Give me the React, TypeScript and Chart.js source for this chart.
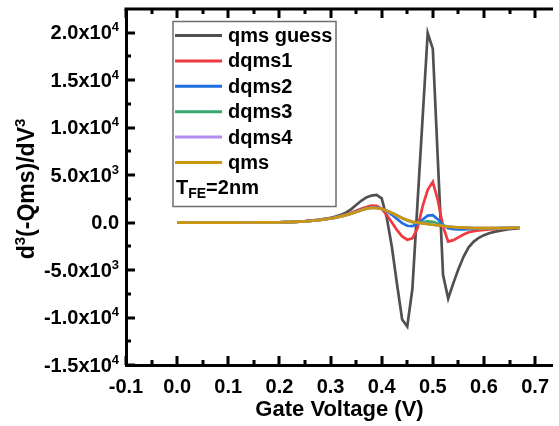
import React, { useEffect, useRef } from 'react';
import { Chart, registerables } from 'chart.js';

Chart.register(...registerables);

// Gate voltage (V)
const voltages = [
  0.00, 0.01, 0.02, 0.03, 0.04, 0.05, 0.06, 0.07, 0.08, 0.09,
  0.10, 0.11, 0.12, 0.13, 0.14, 0.15, 0.16, 0.17, 0.18, 0.19,
  0.20, 0.21, 0.22, 0.23, 0.24, 0.25, 0.26, 0.27, 0.28, 0.29,
  0.30, 0.31, 0.32, 0.33, 0.34, 0.35, 0.36, 0.37, 0.38, 0.39,
  0.40, 0.41, 0.42, 0.43, 0.44, 0.45, 0.46, 0.47, 0.48, 0.49,
  0.50, 0.51, 0.52, 0.53, 0.54, 0.55, 0.56, 0.57, 0.58, 0.59,
  0.60, 0.61, 0.62, 0.63, 0.64, 0.65, 0.66, 0.67,
];

const qmsGuess = [
  0, 0, 0, 0, 1, 1, 1, 2, 2, 3,
  4, 5, 6, 8, 10, 12, 15, 18, 22, 27,
  35, 45, 60, 82, 112, 150, 200, 260, 330, 410,
  510, 640, 810, 1050, 1400, 1850, 2300, 2650, 2850, 2920,
  2550, 500, -2600, -6500, -10200, -10950, -7000, 2000, 11000, 19970,
  18300, 6400, -5500, -8000, -6400, -4900, -3600, -2600, -2000, -1600,
  -1320, -1120, -980, -870, -780, -700, -640, -590,
];

const dqms1 = [
  0, 0, 0, 0, 1, 1, 1, 2, 2, 3,
  4, 5, 6, 8, 10, 12, 15, 18, 22, 27,
  34, 44, 58, 80, 108, 140, 185, 240, 300, 375,
  460, 570, 700, 860, 1040, 1250, 1470, 1650, 1780, 1760,
  1450, 800, 0, -800, -1450, -1800, -1650, -600, 1700, 3450,
  4300, 2300, -400, -2000, -1850, -1550, -1250, -1020, -900, -820,
  -760, -720, -680, -650, -620, -590, -560, -540,
];

const dqms2 = [
  0, 0, 0, 0, 1, 1, 1, 2, 2, 3,
  4, 5, 6, 8, 10, 12, 15, 18, 22, 27,
  33, 42, 55, 75, 100, 130, 170, 220, 280, 350,
  440, 540, 665, 810, 975, 1160, 1340, 1500, 1590, 1570,
  1440, 1200, 820, 380, -50, -330, -380, -120, 330, 740,
  790, 340, -260, -580, -690, -720, -710, -690, -670, -650,
  -635, -620, -605, -590, -575, -560, -548, -535,
];

const dqms3 = [
  0, 0, 0, 0, 1, 1, 1, 2, 2, 3,
  4, 5, 6, 8, 10, 12, 15, 18, 22, 27,
  33, 42, 55, 75, 100, 130, 170, 220, 280, 350,
  430, 530, 650, 790, 950, 1120, 1300, 1470, 1565, 1545,
  1435, 1255, 1010, 740, 460, 220, 50, -20, 60, 120,
  80, -100, -300, -430, -490, -525, -545, -560, -572, -580,
  -585, -585, -580, -575, -565, -555, -545, -535,
];

const dqms4 = [
  0, 0, 0, 0, 1, 1, 1, 2, 2, 3,
  4, 5, 6, 8, 10, 12, 15, 18, 22, 27,
  33, 42, 55, 75, 100, 130, 170, 220, 280, 350,
  430, 530, 650, 790, 950, 1120, 1300, 1470, 1560, 1540,
  1430, 1250, 1010, 750, 485, 260, 90, -15, -85, -150,
  -225, -300, -360, -420, -465, -500, -530, -555, -570, -580,
  -585, -585, -580, -575, -565, -555, -545, -535,
];

const qms = [
  0, 0, 0, 0, 1, 1, 1, 2, 2, 3,
  4, 5, 6, 8, 10, 12, 15, 18, 22, 27,
  33, 42, 55, 75, 100, 130, 170, 220, 280, 350,
  430, 530, 650, 790, 950, 1120, 1300, 1470, 1560, 1540,
  1430, 1250, 1010, 750, 490, 270, 100, -10, -90, -160,
  -230, -300, -360, -420, -465, -500, -530, -555, -570, -580,
  -585, -585, -580, -575, -565, -555, -545, -535,
];

const seriesLabels = ['qms guess', 'dqms1', 'dqms2', 'dqms3', 'dqms4', 'qms'];
const seriesColors = ['#505050', '#ef3b3f', '#1f6fe0', '#38a96f', '#b48cf0', '#c9960c'];
const seriesValues = [qmsGuess, dqms1, dqms2, dqms3, dqms4, qms];

const xMajorTicks = [-0.1, 0.0, 0.1, 0.2, 0.3, 0.4, 0.5, 0.6, 0.7];
const xMinorTicks = [-0.05, 0.05, 0.15, 0.25, 0.35, 0.45, 0.55, 0.65];
const yMajorTicks = [-15000, -10000, -5000, 0, 5000, 10000, 15000, 20000];
const yMinorTicks = [-12500, -7500, -2500, 2500, 7500, 12500, 17500];

const xTitle = 'Gate Voltage (V)';
const yTitleParts: [string, boolean][] = [['d', false], ['3', true], ['(-Qms)/dV', false], ['3', true]];
const legendNote: [string, string, string] = ['T', 'FE', '=2nm'];

const X_MIN = -0.1;
const X_MAX = 0.735;
const Y_MIN = -15000;
const Y_MAX = 22500;

const FONT = '"Liberation Sans", Arial, sans-serif';

function splitSci(v: number): [string, string] {
  if (v === 0) return ['0.0', ''];
  const exp = Math.floor(Math.log10(Math.abs(v)) + 1e-9);
  const mant = v / Math.pow(10, exp);
  return [`${mant.toFixed(1)}x10`, String(exp)];
}

const decorPlugin = {
  id: 'decor',
  afterDraw(chart: any) {
    const { ctx, chartArea: ca, scales } = chart;
    const xs = scales.x;
    const ys = scales.y;
    ctx.save();
    // top frame
    ctx.strokeStyle = '#000';
    ctx.lineWidth = 3;
    ctx.beginPath();
    ctx.moveTo(ca.left - 1.5, ca.top);
    ctx.lineTo(ca.right, ca.top);
    ctx.stroke();

    // inward ticks
    const drawTickX = (v: number, len: number, w: number) => {
      const px = Math.round(xs.getPixelForValue(v));
      ctx.lineWidth = w;
      ctx.beginPath();
      ctx.moveTo(px, ca.bottom);
      ctx.lineTo(px, ca.bottom - len);
      ctx.moveTo(px, ca.top);
      ctx.lineTo(px, ca.top + len);
      ctx.stroke();
    };
    xMajorTicks.forEach((v) => drawTickX(v, 9, 3));
    xMinorTicks.forEach((v) => drawTickX(v, 5, 3));
    const drawTickY = (v: number, len: number, w: number) => {
      const py = Math.round(ys.getPixelForValue(v));
      ctx.lineWidth = w;
      ctx.beginPath();
      ctx.moveTo(ca.left, py);
      ctx.lineTo(ca.left + len, py);
      ctx.stroke();
    };
    yMajorTicks.forEach((v) => drawTickY(v, 9, 3));
    yMinorTicks.forEach((v) => drawTickY(v, 5, 3));

    // y tick labels with superscripts
    ctx.fillStyle = '#000';
    ctx.textBaseline = 'middle';
    ctx.textAlign = 'left';
    const right = ca.left - 7;
    ys.ticks.forEach((t: any) => {
      const py = ys.getPixelForValue(t.value);
      const [base, sup] = splitSci(t.value);
      ctx.font = `bold 20px ${FONT}`;
      const wb = ctx.measureText(base).width;
      ctx.font = `bold 13px ${FONT}`;
      const ws = sup ? ctx.measureText(sup).width : 0;
      const x0 = right - wb - ws;
      ctx.font = `bold 20px ${FONT}`;
      ctx.fillText(base, x0, py + 1);
      if (sup) {
        ctx.font = `bold 13px ${FONT}`;
        ctx.fillText(sup, x0 + wb, py - 5);
      }
    });

    // y axis title (rotated, with superscripts)
    const baseF = `bold 23px ${FONT}`;
    const supF = `bold 15px ${FONT}`;
    let total = 0;
    yTitleParts.forEach(([txt, sup]) => {
      ctx.font = sup ? supF : baseF;
      total += ctx.measureText(txt).width;
    });
    ctx.save();
    ctx.translate(28, (ca.top + ca.bottom) / 2 + 2);
    ctx.rotate(-Math.PI / 2);
    let cx = -total / 2;
    yTitleParts.forEach(([txt, sup]) => {
      ctx.font = sup ? supF : baseF;
      ctx.fillText(txt, cx, sup ? -7 : 0);
      cx += ctx.measureText(txt).width;
    });
    ctx.restore();

    // legend
    const bx = ca.left + 47;
    const by = ca.top + 12.5;
    const bw = 163;
    const bh = 185;
    ctx.fillStyle = '#fff';
    ctx.fillRect(bx, by, bw, bh);
    ctx.strokeStyle = '#6e6e6e';
    ctx.lineWidth = 1.5;
    ctx.strokeRect(bx, by, bw, bh);
    const rowH = 25.4;
    chart.data.datasets.forEach((ds: any, i: number) => {
      const ry = by + 14 + i * rowH;
      ctx.strokeStyle = ds.borderColor;
      ctx.lineWidth = 3;
      ctx.beginPath();
      ctx.moveTo(bx + 2, ry);
      ctx.lineTo(bx + 49, ry);
      ctx.stroke();
      ctx.fillStyle = '#000';
      ctx.font = `bold 20px ${FONT}`;
      ctx.textBaseline = 'middle';
      ctx.fillText(ds.label, bx + 55, ry + 1);
    });
    const ty = by + 14 + 6 * rowH + 1;
    ctx.fillStyle = '#000';
    ctx.font = `bold 20px ${FONT}`;
    ctx.fillText(legendNote[0], bx + 3, ty);
    const wT = ctx.measureText(legendNote[0]).width;
    ctx.font = `bold 14px ${FONT}`;
    ctx.fillText(legendNote[1], bx + 3 + wT, ty + 5);
    const wFE = ctx.measureText(legendNote[1]).width;
    ctx.font = `bold 20px ${FONT}`;
    ctx.fillText(legendNote[2], bx + 3 + wT + wFE, ty);
    ctx.restore();
  },
};

export default function App() {
  const ref = useRef<HTMLCanvasElement | null>(null);
  useEffect(() => {
    if (!ref.current) return;
    const datasets = seriesLabels.map((label, i) => ({
      label,
      data: voltages.map((v, j) => ({ x: v, y: seriesValues[i][j] })),
      borderColor: seriesColors[i],
      backgroundColor: seriesColors[i],
      borderWidth: 2.7,
      pointRadius: 0,
      tension: 0,
      fill: false,
      order: seriesLabels.length - i,
    }));
    const chart = new Chart(ref.current, {
      type: 'line',
      data: { datasets },
      options: {
        animation: false,
        responsive: false,
        events: [],
        layout: { padding: { top: 9, left: 0, right: 0, bottom: 0 } },
        plugins: { legend: { display: false }, tooltip: { enabled: false } },
        scales: {
          x: {
            type: 'linear',
            min: X_MIN,
            max: X_MAX,
            afterBuildTicks: (s: any) => {
              s.ticks = xMajorTicks.map((v) => ({ value: v }));
            },
            afterFit: (s: any) => {
              s.height = 61;
            },
            grid: { display: false, drawTicks: false },
            border: { display: true, color: '#000', width: 3 },
            ticks: {
              color: '#000',
              font: { family: FONT, size: 20, weight: 'bold' },
              padding: 10,
              maxRotation: 0,
              autoSkip: false,
              callback: (v: any) => Number(v).toFixed(1),
            },
            title: {
              display: true,
              text: xTitle,
              color: '#000',
              font: { family: FONT, size: 22, weight: 'bold' },
              padding: { top: 0, bottom: 3 },
            },
          },
          y: {
            type: 'linear',
            min: Y_MIN,
            max: Y_MAX,
            afterBuildTicks: (s: any) => {
              s.ticks = yMajorTicks.map((v) => ({ value: v }));
            },
            afterFit: (s: any) => {
              s.width = 126;
            },
            grid: { display: false, drawTicks: false },
            border: { display: true, color: '#000', width: 3 },
            ticks: { display: false },
            title: { display: false },
          },
        },
      } as any,
      plugins: [decorPlugin],
    });
    return () => chart.destroy();
  }, []);
  return (
    <div style={{ position: 'fixed', left: 0, top: 0, width: 559, height: 426, background: '#fff' }}>
      <canvas ref={ref} width={559} height={426} />
    </div>
  );
}
